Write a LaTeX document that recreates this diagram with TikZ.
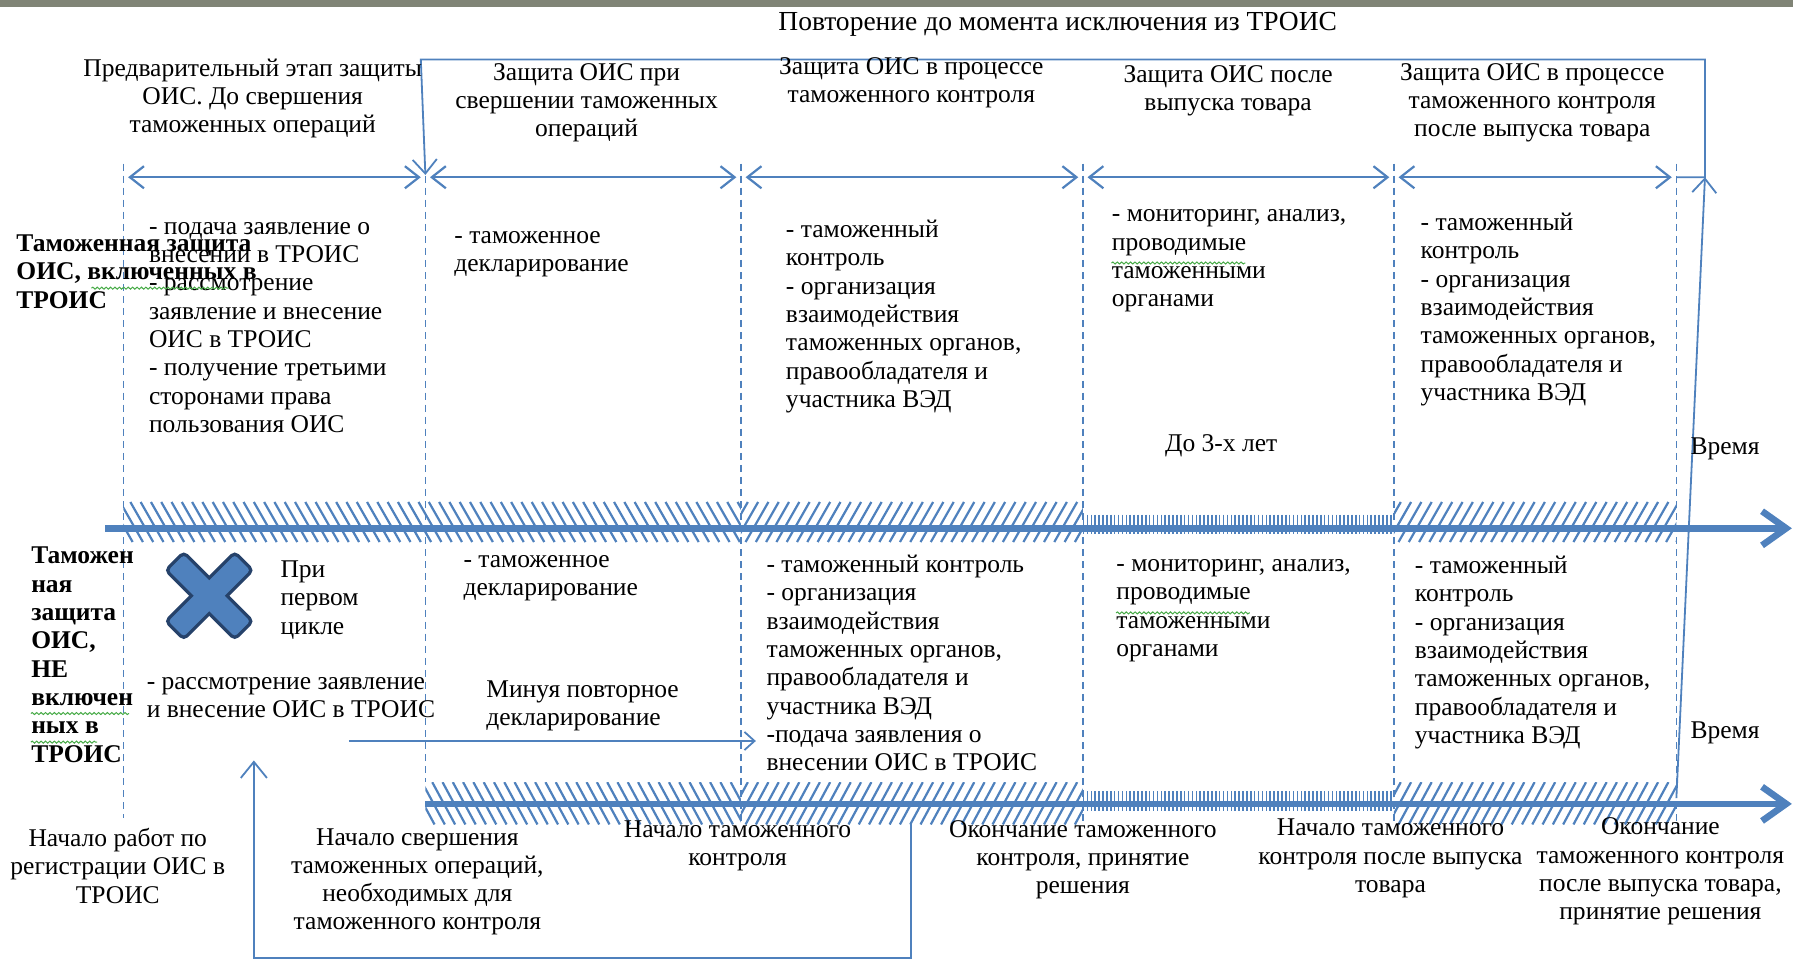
\documentclass[tikz,border=0pt]{standalone}
\usepackage{fontspec}
\setmainfont{Liberation Serif}
\usetikzlibrary{arrows.meta,decorations.pathmorphing,positioning}
\definecolor{oisblue}{RGB}{79,129,189}
\definecolor{xborder}{RGB}{38,66,106}
\definecolor{topbar}{RGB}{128,132,118}
\definecolor{spellgreen}{RGB}{70,170,70}

\begin{document}
\begin{tikzpicture}[x=0.02cm,y=-0.02cm,
    txt/.style={inner sep=0pt,align=left,anchor=north west,font=\fontsize{12.7}{14.1}\selectfont,execute at begin node=\strut},
    ctr/.style={txt,align=center,anchor=north},
    lbl/.style={txt,font=\fontsize{12.7}{14.1}\selectfont\bfseries},
    guide/.style={oisblue,line width=0.8pt,dash pattern=on 3.5pt off 2.5pt},
    phase/.style={oisblue,line width=1.1pt,{Straight Barb[length=7pt,width=11pt]}-{Straight Barb[length=7pt,width=11pt]}},
    timeaxis/.style={oisblue,line width=3.3pt,-{Straight Barb[length=12pt,width=17pt]}},
    link/.style={oisblue,line width=0.9pt},
    spell/.style={spellgreen,line width=0.5pt,decorate,decoration={snake,amplitude=0.5pt,segment length=2.2pt}}
  ]
    \useasboundingbox (0,0) rectangle (1568,841);
    \fill[topbar] (0,0) rectangle (1568,6);

    % phase borders
    \foreach \n/\x/\y in {1/108/715,2/372/684,3/648/721,4/947/721,5/1219/721,6/1466/721}{
        \coordinate (t\n) at (\x,143);
        \coordinate (a\n) at (\x,155);
        \coordinate (b\n) at (\x,\y);
        \draw[guide] (t\n) -- (b\n);
    }
    \foreach \p/\q in {1/2,2/3,3/4,4/5,5/6}
        \draw[phase,shorten <=2.3pt,shorten >=2.3pt] (a\p) -- (a\q);

    % hatched bands on both time axes
    \foreach \xa/\xb/\ya/\yb/\d/\s/\w in {108/648/439/474/1/9/1.1pt,648/947/439/474/-1/9/1.1pt,
        947/1219/450/467/0/3.4/0.8pt,1219/1466/439/474/-1/9/1.1pt,
        372/648/684/721/1/9/1.1pt,648/947/684/721/-1/9/1.1pt,
        947/1219/692/709/0/3.4/0.8pt,1219/1466/684/721/-1/9/1.1pt}{
        \begin{scope}
            \clip (\xa,\ya) rectangle (\xb,\yb);
            \foreach \k in {0,...,170}
                \draw[oisblue,line width=\w] (\xa-30+\k*\s,\ya) -- (\xa-30+\k*\s+\d*20,\yb);
        \end{scope}
    }

    \coordinate (ax1s) at (92,462);
    \coordinate (ax1e) at (1567,462);
    \coordinate (ax2s) at (372,703);
    \coordinate (ax2e) at (1567,703);
    \draw[timeaxis] (ax1s) -- (ax1e);
    \draw[timeaxis] (ax2s) -- (ax2e);

    % repeat loop
    \coordinate (loopR) at (1491,155);
    \coordinate (loopTL) at (368,52);
    \coordinate (loopEnd) at (372,153);
    \coordinate (cycTail) at (1466,698);
    \draw[link,-{Straight Barb[length=7pt,width=12pt]}] (a6) -- (loopR) -- (loopR |- loopTL) -- (loopTL) -- (loopEnd);
    \draw[link,-{Straight Barb[length=7pt,width=12pt]}] (cycTail) -- (loopR);

    \node[ctr,font=\fontsize{13.7}{15}\selectfont] (title) at (925,8) {Повторение до момента исключения из ТРОИС};
    \node[ctr] (h1) at (221,51) {Предварительный этап защиты\\ОИС. До свершения\\таможенных операций};
    \node[ctr] (h2) at (513,55) {Защита ОИС при\\свершении таможенных\\операций};
    \node[ctr] (h3) at (797,50) {Защита ОИС в процессе\\таможенного контроля};
    \node[ctr] (h4) at (1074,57) {Защита ОИС после\\выпуска товара};
    \node[ctr] (h5) at (1340,55) {Защита ОИС в процессе\\таможенного контроля\\после выпуска товара};

    % upper row: OIS in the register
    \node[lbl] (row1) at (14,205) {Таможенная защита\\ОИС, включенных в\\ТРОИС};
    \node[txt] (u1) at (130,194) {- подача заявление о\\внесении в ТРОИС\\- рассмотрение\\заявление и внесение\\ОИС в ТРОИС\\- получение третьими\\сторонами права\\пользования ОИС};
    \node[txt] (u2) at (397,202) {- таможенное\\декларирование};
    \node[txt] (u3) at (687,192) {- таможенный\\контроль\\- организация\\взаимодействия\\таможенных органов,\\правообладателя и\\участника ВЭД};
    \node[txt] (u4) at (972,183) {- мониторинг, анализ,\\проводимые\\таможенными\\органами};
    \node[ctr] (term) at (1068,377) {До 3-х лет};
    \node[txt] (u5) at (1242,186) {- таможенный\\контроль\\- организация\\взаимодействия\\таможенных органов,\\правообладателя и\\участника ВЭД};
    \node[txt] (time1) at (1478,380) {Время};

    % lower row: OIS not in the register
    \node[lbl] (row2) at (27,478) {Таможен\\ная\\защита\\ОИС,\\НЕ\\включен\\ных в\\ТРОИС};
    \draw[xborder,line width=3.4pt,rounded corners=1.5pt,rotate around={45:(183,521)}] (142,511.5) rectangle (224,530.5);
    \draw[xborder,line width=3.4pt,rounded corners=1.5pt,rotate around={-45:(183,521)}] (142,511.5) rectangle (224,530.5);
    \fill[oisblue,rounded corners=1.5pt,rotate around={45:(183,521)}] (142,511.5) rectangle (224,530.5);
    \fill[oisblue,rounded corners=1.5pt,rotate around={-45:(183,521)}] (142,511.5) rectangle (224,530.5);
    \node[txt] (first) at (245,490) {При\\первом\\цикле};
    \node[txt] (l1) at (128,592) {- рассмотрение заявление\\и внесение ОИС в ТРОИС};
    \node[txt] (l2) at (405,485) {- таможенное\\декларирование};
    \node[txt] (skip) at (425,595) {Минуя повторное\\декларирование};
    \node[txt] (l3) at (670,485) {- таможенный контроль\\- организация\\взаимодействия\\таможенных органов,\\правообладателя и\\участника ВЭД\\-подача заявления о\\внесении ОИС в ТРОИС};
    \node[txt] (l4) at (976,489) {- мониторинг, анализ,\\проводимые\\таможенными\\органами};
    \node[txt] (l5) at (1237,486) {- таможенный\\контроль\\- организация\\взаимодействия\\таможенных органов,\\правообладателя и\\участника ВЭД};
    \node[txt] (time2) at (1478,628) {Время};

    \coordinate (skipA) at (305,648);
    \coordinate (skipB) at (661,648);
    \draw[link,-{Straight Barb[length=5pt,width=9pt]}] (skipA) -- (skipB);

    % milestones under the axis
    \node[ctr] (m1) at (103,724) {Начало работ по\\регистрации ОИС в\\ТРОИС};
    \node[ctr] (m2) at (365,724) {Начало свершения\\таможенных операций,\\необходимых для\\таможенного контроля};
    \node[ctr] (m3) at (645,717) {Начало таможенного\\контроля};
    \node[ctr] (m4) at (947,717) {Окончание таможенного\\контроля, принятие\\решения};
    \node[ctr] (m5) at (1216,716) {Начало таможенного\\контроля после выпуска\\товара};
    \node[ctr] (m6) at (1452,715) {Окончание\\таможенного контроля\\после выпуска товара,\\принятие решения};

    \coordinate (fbA) at (797,721);
    \coordinate (fbB) at (222,665);
    \draw[link,-{Straight Barb[length=8pt,width=13pt]}] (fbA) -- ++(0,117) -| (fbB);

    % spell-check marks
    \draw[spell] (80,252) -- (200,252);
    \draw[spell] (972,230) -- (1089,230);
    \draw[spell] (976,536) -- (1093,536);
    \draw[spell] (27,624) -- (113,624);
    \draw[spell] (27,649) -- (85,649);
\end{tikzpicture}
\end{document}
